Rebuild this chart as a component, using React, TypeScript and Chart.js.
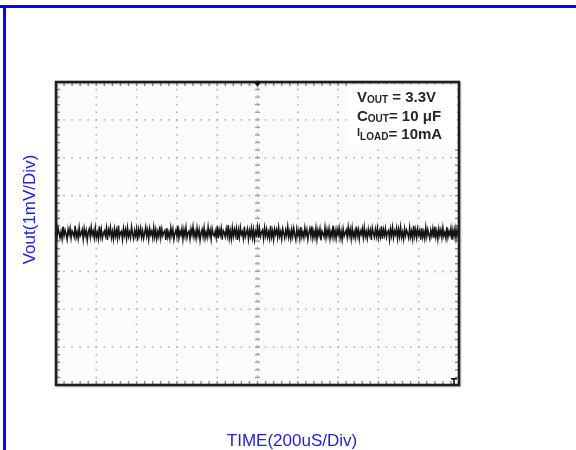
import React, { useEffect, useRef } from "react";
import { Chart, registerables } from "chart.js";

Chart.register(...registerables);

// Time axis: 10 divisions of 200 µs
const X_TICKS = [0, 200, 400, 600, 800, 1000, 1200, 1400, 1600, 1800, 2000];
// Voltage axis: 8 divisions of 1 mV (AC-coupled, centred on 0)
const Y_TICKS = [-4, -3, -2, -1, 0, 1, 2, 3, 4];
const X_MINOR_STEP = 40; // 5 minor ticks per division
const Y_MINOR_STEP = 0.2;
const SAMPLE_US = 5;

// Output ripple/noise trace in mV
const NOISE_MV = [
  0.12, -0.08, 0.15, 0.02, -0.11, 0.05, -0.14, 0.18, -0.06, 0.09, -0.02, -0.16, 0.11, -0.03, 0.14, -0.12, 0.07, 0.01, -0.09, 0.2,
  -0.1, 0.04, -0.13, 0.16, -0.07, -0.01, 0.1, -0.15, 0.13, -0.05, 0.08, -0.18, 0.03, 0.12, -0.09, 0.17, -0.04, 0.06, -0.12, 0.15,
  -0.1, 0.03, -0.14, 0.19, -0.08, 0.11, -0.13, 0.0, 0.07, -0.06, 0.14, -0.17, 0.1, -0.02, 0.16, -0.11, 0.05, -0.15, 0.12, -0.07,
  0.09, -0.12, 0.21, -0.09, 0.02, 0.06, -0.16, 0.13, -0.05, 0.1, -0.13, 0.15, -0.08, 0.04, -0.11, 0.18, -0.01, -0.14, 0.08, -0.06,
  0.12, -0.19, 0.11, -0.04, 0.14, -0.1, 0.07, -0.13, 0.01, 0.17, -0.07, 0.09, -0.15, 0.13, -0.03, 0.06, -0.12, 0.16, -0.09, 0.1,
  -0.14, 0.05, -0.08, 0.19, -0.11, 0.12, -0.06, 0.03, 0.08, -0.17, 0.14, -0.1, 0.03, -0.13, 0.15, -0.05, 0.11, -0.16, 0.0, 0.09,
  -0.08, 0.2, -0.12, 0.06, -0.04, 0.13, -0.15, 0.1, -0.07, 0.16, -0.11, 0.02, 0.07, -0.14, 0.12, -0.03, 0.18, -0.09, 0.05, -0.13,
  0.14, -0.06, 0.1, -0.18, 0.01, 0.11, -0.08, 0.15, -0.12, 0.04, -0.1, 0.17, -0.05, 0.09, -0.15, 0.13, -0.02, -0.07, 0.06, -0.11,
  0.19, -0.13, 0.1, -0.04, 0.14, -0.16, 0.08, 0.02, -0.09, 0.12, -0.06, 0.22, -0.12, 0.07, -0.14, 0.15, -0.08, 0.11, -0.05, 0.13,
  -0.17, 0.09, -0.1, 0.16, -0.03, 0.05, -0.13, 0.18, -0.09, 0.0, 0.12, -0.15, 0.08, -0.07, 0.14, -0.11, 0.1, -0.16, 0.06, -0.04,
  0.17, -0.12, 0.13, -0.08, 0.03, 0.09, -0.14, 0.15, -0.06, 0.11, -0.1, 0.04, -0.13, 0.2, -0.09, 0.07, -0.16, 0.12, -0.02, 0.1,
  -0.11, 0.16, -0.07, 0.05, -0.15, 0.13, 0.01, -0.12, 0.09, -0.05, 0.18, -0.1, 0.06, -0.14, 0.11, -0.08, 0.14, -0.03, -0.17, 0.12,
  -0.06, 0.08, -0.13, 0.17, -0.09, 0.04, -0.11, 0.15, -0.04, 0.1, -0.16, 0.02, 0.13, -0.07, 0.19, -0.12, 0.06, -0.1, 0.14, -0.15,
  0.09, -0.05, 0.12, -0.18, 0.07, 0.0, -0.09, 0.16, -0.11, 0.1, -0.06, 0.13, -0.14, 0.05, -0.08, 0.21, -0.1, 0.08, -0.13, 0.11,
  -0.03, 0.15, -0.12, 0.06, -0.16, 0.12, -0.07, 0.02, 0.09, -0.1, 0.17, -0.05, 0.11, -0.14, 0.14, -0.09, 0.04, -0.12, 0.18, -0.06,
  0.1, -0.15, 0.07, -0.02, 0.13, -0.11, 0.16, -0.08, 0.05, -0.13, 0.12, -0.04, 0.09, -0.17, 0.15, 0.01, -0.1, 0.11, -0.07, 0.14,
  -0.12, 0.06, -0.09, 0.19, -0.14, 0.1, -0.05, 0.13, -0.1, 0.03, 0.08, -0.16, 0.12, -0.06, 0.16, -0.11, 0.07, -0.03, 0.14, -0.13,
  0.11, -0.08, 0.17, -0.1, 0.04, -0.15, 0.13, -0.06, 0.09, 0.0, -0.12, 0.15, -0.09, 0.06, -0.14, 0.2, -0.07, 0.1, -0.11, 0.12,
  -0.04, 0.08, -0.16, 0.14, -0.1, 0.05, -0.13, 0.16, -0.08, 0.11, -0.02, -0.14, 0.09, -0.06, 0.13, -0.12, 0.18, -0.09, 0.07, -0.15,
  0.12, -0.05, 0.1, -0.11, 0.15, -0.07, 0.03, -0.13, 0.17, -0.1, 0.06, -0.04, 0.14, -0.16, 0.09, -0.08, 0.13, -0.12, 0.11, -0.06,
  0.1,
];

const X_LABEL = "TIME(200uS/Div)";
const Y_LABEL = "Vout(1mV/Div)";
const NOTE_LINES = [
  [["V", 15, 0], ["OUT", 10, 1], [" = 3.3V", 15, 0]],
  [["C", 15, 0], ["OUT", 10, 1], ["= 10 μF", 15, 0]],
  [["I", 11, -3], ["LOAD", 10, 1], ["= 10mA", 15, 0]],
] as [string, number, number][][];

const FONT = "'Liberation Sans', Arial, sans-serif";
const BLUE_TEXT = "#2323d6";
const BLUE_FRAME = "#0505f0";

const scopePlugin = {
  id: "scope",
  beforeDatasetsDraw(chart: any) {
    const { ctx, chartArea, scales } = chart;
    const { left, top, right, bottom } = chartArea;
    const x = scales.x;
    const y = scales.y;
    ctx.save();
    ctx.fillStyle = "#fcfcfe";
    ctx.fillRect(left, top, right - left, bottom - top);

    const xMin = X_TICKS[0];
    const xMax = X_TICKS[X_TICKS.length - 1];
    const yMin = Y_TICKS[0];
    const yMax = Y_TICKS[Y_TICKS.length - 1];
    const xMid = X_TICKS[(X_TICKS.length - 1) / 2];
    const yMid = Y_TICKS[(Y_TICKS.length - 1) / 2];

    // dotted graticule
    ctx.fillStyle = "#b4b4b4";
    for (const xv of X_TICKS) {
      if (xv === xMin || xv === xMax || xv === xMid) continue;
      const px = x.getPixelForValue(xv);
      for (let v = yMin; v <= yMax + 1e-6; v += Y_MINOR_STEP) {
        const py = y.getPixelForValue(v);
        ctx.fillRect(px - 0.8, py - 0.8, 1.6, 1.6);
      }
    }
    for (const yv of Y_TICKS) {
      if (yv === yMin || yv === yMax || yv === yMid) continue;
      const py = y.getPixelForValue(yv);
      for (let v = xMin; v <= xMax + 1e-6; v += X_MINOR_STEP) {
        const px = x.getPixelForValue(v);
        ctx.fillRect(px - 0.8, py - 0.8, 1.6, 1.6);
      }
    }

    // centre axes with minor ticks
    ctx.fillStyle = "#a0a0a0";
    const cx = x.getPixelForValue(xMid);
    const cy = y.getPixelForValue(yMid);
    for (let v = yMin; v <= yMax + 1e-6; v += Y_MINOR_STEP) {
      const py = y.getPixelForValue(v);
      ctx.fillRect(cx - 2.5, py - 0.7, 5, 1.4);
      ctx.fillRect(cx - 0.7, py - 2, 1.4, 1.4);
    }
    for (let v = xMin; v <= xMax + 1e-6; v += X_MINOR_STEP) {
      const px = x.getPixelForValue(v);
      ctx.fillRect(px - 0.7, cy - 2.5, 1.4, 5);
      ctx.fillRect(px - 2, cy - 0.7, 1.4, 1.4);
    }

    // border minor ticks (inward)
    ctx.fillStyle = "#8a8a8a";
    for (let v = xMin; v <= xMax + 1e-6; v += X_MINOR_STEP) {
      const px = x.getPixelForValue(v);
      ctx.fillRect(px - 0.7, top, 1.4, 4);
      ctx.fillRect(px - 0.7, bottom - 4, 1.4, 4);
    }
    for (let v = yMin; v <= yMax + 1e-6; v += Y_MINOR_STEP) {
      const py = y.getPixelForValue(v);
      ctx.fillRect(left, py - 0.7, 4, 1.4);
      ctx.fillRect(right - 4, py - 0.7, 4, 1.4);
    }

    // annotation box
    ctx.fillStyle = "#ffffff";
    ctx.fillRect(right - 112, top + 2, 110, 60);
    ctx.fillStyle = "#262626";
    ctx.textBaseline = "alphabetic";
    const baselines = [top + 20, top + 39, top + 57];
    NOTE_LINES.forEach((parts, i) => {
      let tx = right - 102;
      for (const [t, size, dy] of parts) {
        ctx.font = `bold ${size}px ${FONT}`;
        ctx.fillText(t, tx, baselines[i] + dy);
        tx += ctx.measureText(t).width;
      }
    });
    ctx.restore();
  },
  afterDatasetsDraw(chart: any) {
    const { ctx, chartArea } = chart;
    const { left, top, right, bottom } = chartArea;
    ctx.save();
    // frame shadow + frame
    ctx.strokeStyle = "rgba(0,0,0,0.18)";
    ctx.lineWidth = 2;
    ctx.strokeRect(left + 1.5, top + 1.5, right - left, bottom - top);
    ctx.strokeStyle = "#1e1e1e";
    ctx.lineWidth = 2.6;
    ctx.strokeRect(left, top, right - left, bottom - top);

    // trigger position marker
    const cx = (left + right) / 2;
    ctx.fillStyle = "#111";
    ctx.beginPath();
    ctx.moveTo(cx - 3.5, top);
    ctx.lineTo(cx + 3.5, top);
    ctx.lineTo(cx, top + 5);
    ctx.closePath();
    ctx.fill();
    // trigger level marker bottom-right
    ctx.fillRect(right - 8, bottom - 7, 6, 1.6);
    ctx.fillRect(right - 5.8, bottom - 7, 1.6, 6);
    ctx.restore();
  },
  afterDraw(chart: any) {
    const { ctx, chartArea, width } = chart;
    const { top, bottom } = chartArea;
    ctx.save();
    // blue frame (top and left edges)
    ctx.fillStyle = BLUE_FRAME;
    ctx.fillRect(0, 5, width, 3);
    ctx.fillRect(3, 5, 3, 450);

    ctx.fillStyle = BLUE_TEXT;
    ctx.font = `17px ${FONT}`;
    ctx.textAlign = "center";
    ctx.textBaseline = "alphabetic";
    ctx.fillText(X_LABEL, 292, bottom + 61);

    ctx.translate(35, (top + bottom) / 2 - 24);
    ctx.rotate(-Math.PI / 2);
    ctx.fillText(Y_LABEL, 0, 0);
    ctx.restore();
  },
};

export default function App() {
  const canvasRef = useRef<HTMLCanvasElement | null>(null);

  useEffect(() => {
    const canvas = canvasRef.current;
    if (!canvas) return;
    const points = NOISE_MV.map((v, i) => ({ x: i * SAMPLE_US, y: v }));
    const chart = new Chart(canvas, {
      type: "line",
      data: {
        datasets: [
          {
            data: points,
            borderColor: "#141414",
            borderWidth: 1.5,
            pointRadius: 0,
            tension: 0,
          },
        ],
      },
      options: {
        animation: false,
        responsive: false,
        devicePixelRatio: 1,
        layout: { padding: { left: 56, top: 82, right: 117, bottom: 65 } },
        scales: {
          x: { type: "linear", min: X_TICKS[0], max: X_TICKS[X_TICKS.length - 1], display: false },
          y: { type: "linear", min: Y_TICKS[0], max: Y_TICKS[Y_TICKS.length - 1], display: false },
        },
        plugins: { legend: { display: false }, tooltip: { enabled: false } },
      },
      plugins: [scopePlugin],
    });
    return () => chart.destroy();
  }, []);

  return (
    <div style={{ position: "fixed", left: 0, top: 0, width: 576, height: 450, background: "#fff" }}>
      <canvas ref={canvasRef} width={576} height={450} style={{ display: "block" }} />
    </div>
  );
}
